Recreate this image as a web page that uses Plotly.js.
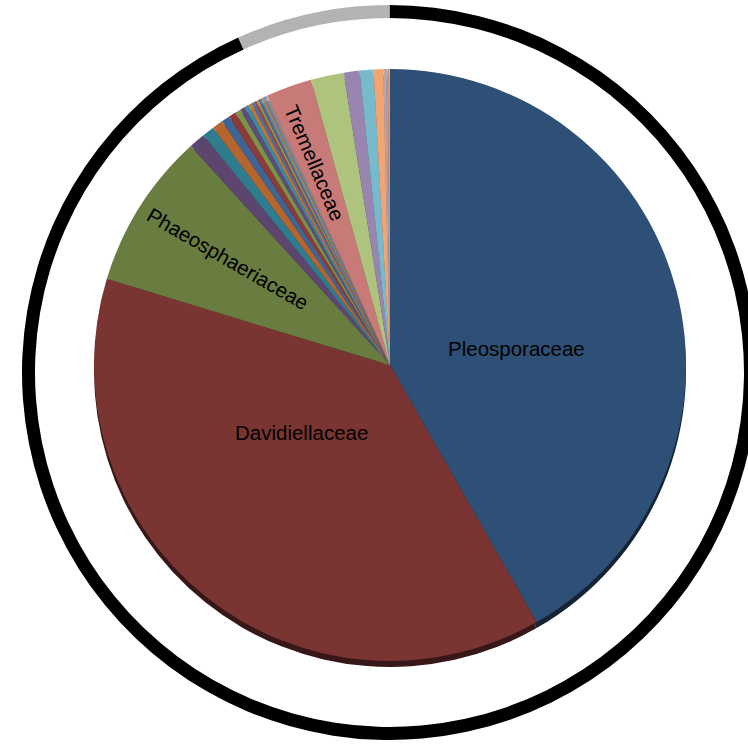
<!DOCTYPE html>
<html>
<head>
<meta charset="utf-8">
<script src="https://cdn.plot.ly/plotly-3.0.1.min.js"></script>
<style>
html,body{margin:0;padding:0;overflow:hidden;background:#fff;}
#chart{width:780px;height:744px;}
</style>
</head>
<body>
<div id="chart"></div>
<script>
// ---- data (share of reads, %) ----
var families = [
  "Pleosporaceae","Davidiellaceae","Phaeosphaeriaceae",
  "Family 4","Family 5","Family 6","Family 7","Family 8","Family 9","Family 10",
  "Family 11","Family 12","Family 13","Family 14","Family 15","Family 16",
  "Family 17","Family 18","Family 19","Family 20","Family 21","Family 22",
  "Tremellaceae","Family 24","Family 25","Family 26","Family 27",
  "Family 28","Family 29","Family 30","Family 31"
];
var shares = [
  41.75, 37.95, 8.55,
  0.89, 0.67, 0.58, 0.47, 0.39, 0.31, 0.28,
  0.22, 0.18, 0.16, 0.14, 0.12, 0.11,
  0.10, 0.09, 0.08, 0.07, 0.05, 0.04,
  2.50, 1.80, 0.86, 0.75, 0.53,
  0.14, 0.10, 0.07, 0.05
];
var sliceColors = [
  "#2F5076","#7A3432","#6A7D40",
  "#5C4670","#2F7C8E","#B5652D","#3E6594","#8E3A38","#7A9447","#5E4C7D",
  "#3A8AA0","#C8742F","#4A72A5","#A04643","#87A050","#6A5690",
  "#4596AC","#D07E3A","#5580B0","#8A8A8A","#9A9A9A","#A8A8A8",
  "#C87A78","#AEC47E","#9985B0","#76BACB","#F0A572",
  "#C8A0A0","#A0A8C0","#D09070","#B8B8B8"
];
var labelledFamilies = ["Pleosporaceae","Davidiellaceae","Phaeosphaeriaceae","Tremellaceae"];

// outer ring: rest vs highlighted arc (%), clockwise from 12 o'clock
var ringParts = ["rest","highlight"];
var ringShares = [93.25, 6.75];
var ringColors = ["#000000","#B3B3B3"];

// ---- layout helpers ----
var W = 780, H = 744;
function domX(cx, r){ return [(cx - r)/W, (cx + r)/W]; }
function domY(cy, r){ return [1 - (cy + r)/H, 1 - (cy - r)/H]; }
function darken(hex, f){
  var n = parseInt(hex.slice(1),16);
  var r = Math.round(((n>>16)&255)*f), g = Math.round(((n>>8)&255)*f), b = Math.round((n&255)*f);
  return "rgb("+r+","+g+","+b+")";
}

var pieCx = 390, pieCy = 365, pieR = 296;

var shadow = {
  type:"pie", labels:families, values:shares, sort:false, direction:"clockwise", rotation:0,
  marker:{colors:sliceColors.map(function(c){return darken(c,0.45);}), line:{width:0}},
  textinfo:"none", hoverinfo:"none",
  domain:{x:domX(pieCx,pieR), y:domY(pieCy+6,pieR)}
};
var main = {
  type:"pie", labels:families, values:shares, sort:false, direction:"clockwise", rotation:0,
  marker:{colors:sliceColors, line:{width:0}},
  textinfo:"none", hoverinfo:"label+percent",
  domain:{x:domX(pieCx,pieR), y:domY(pieCy,pieR)}
};
var ringR = 367.5, ringW = 13;
var ring = {
  type:"pie", labels:ringParts, values:ringShares, sort:false, direction:"clockwise", rotation:0,
  hole:(ringR-ringW)/ringR,
  marker:{colors:ringColors, line:{width:0}},
  textinfo:"none", hoverinfo:"none",
  domain:{x:domX(389.5,ringR), y:domY(372.5,ringR)}
};

var labelPos = {
  "Pleosporaceae":[516,348,0],
  "Davidiellaceae":[301,432,0],
  "Phaeosphaeriaceae":[228,258,30],
  "Tremellaceae":[315,162,67]
};
var annotations = labelledFamilies.map(function(name){
  var p = labelPos[name];
  return {text:name, xref:"paper", yref:"paper", x:p[0]/W, y:1-p[1]/H,
    xanchor:"center", yanchor:"middle", textangle:p[2], showarrow:false,
    font:{family:"Liberation Sans, Arial, sans-serif", size:20.5, color:"#000"}};
});

Plotly.newPlot("chart", [shadow, main, ring], {
  width:W, height:H, margin:{l:0,r:0,t:0,b:0},
  paper_bgcolor:"#fff", plot_bgcolor:"#fff",
  showlegend:false, annotations:annotations
}, {displayModeBar:false, staticPlot:true});
</script>
</body>
</html>
